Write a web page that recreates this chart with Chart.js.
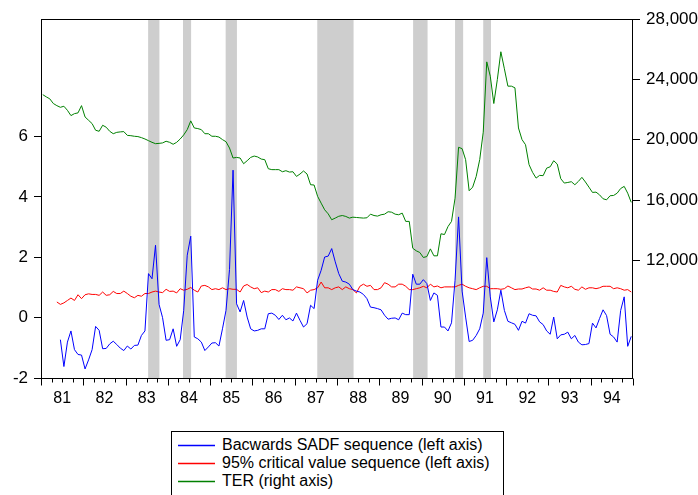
<!DOCTYPE html>
<html>
<head>
<meta charset="utf-8">
<script src="https://cdn.jsdelivr.net/npm/chart.js@4.4.1/dist/chart.umd.min.js"></script>
<style>
  body { margin: 0; background: #fff; overflow: hidden; }
  #wrap { position: relative; width: 698px; height: 495px; }
  #legend {
    position: absolute; left: 171px; top: 431px; width: 331px; height: 80px;
    border: 1px solid #000; background: #fff;
    font-family: "Liberation Sans", Arial, sans-serif; font-size: 16px; color: #000;
  }
  .row { position: absolute; left: 0; width: 100%; height: 18px; line-height: 18px; white-space: nowrap; }
  .swatch { position: absolute; left: 6px; top: 0; }
  .lbl { position: absolute; left: 50px; top: 0; }
</style>
</head>
<body>
<div id="wrap">
  <canvas id="graph" width="698" height="495"></canvas>
  <div id="legend"></div>
</div>
<script>
// year labels, monthly data 1981M01 - 1994M12 //
const years = ['81','82','83','84','85','86','87','88','89','90','91','92','93','94'];

// bubble periods (shaded), in months from 1981M01 //
const shadeStart = [30.4, 40.3, 52.4, 78.4, 105.6, 117.5, 125.5];
const shadeEnd   = [33.6, 42.6, 55.6, 88.7, 109.7, 119.8, 127.7];

// Backwards SADF sequence (left axis) //
const sadf = [null,null,null,null,null,
  -0.73,-1.62,-0.81,-0.44,-1.06,-1.22,-1.24,-1.70,-1.40,-1.06,-0.29,-0.42,-1.03,-1.02,-0.87,
  -0.78,-0.89,-1.01,-1.09,-0.94,-1.04,-0.92,-0.91,-0.59,-0.44,1.46,1.29,2.40,0.44,0.00,
  -0.75,-0.73,-0.37,-0.95,-0.73,0.24,2.07,2.70,-0.64,-0.70,-0.81,-1.09,-0.97,-0.84,-0.83,
  -0.94,-0.37,0.24,1.60,4.89,0.46,0.19,0.57,0.02,-0.37,-0.44,-0.42,-0.37,-0.37,0.13,
  0.15,0.08,-0.06,0.08,-0.07,-0.01,-0.11,0.15,-0.09,-0.31,-0.20,0.41,0.30,1.24,1.57,
  2.01,2.04,2.29,1.85,1.46,1.21,1.18,1.11,0.93,0.88,0.85,0.77,0.63,0.35,0.33,
  0.30,0.26,0.08,-0.05,-0.02,-0.01,-0.07,0.15,0.10,0.10,1.44,1.11,1.11,1.26,1.13,
  0.57,0.82,0.74,-0.31,-0.31,-0.44,-0.17,1.24,3.34,0.88,0.02,-0.79,-0.75,-0.59,-0.37,
  0.15,1.99,0.69,-0.14,0.26,0.91,0.24,-0.12,-0.17,-0.22,-0.42,-0.12,-0.18,0.13,0.08,
  0.06,-0.14,-0.23,-0.44,-0.55,0.02,-0.70,-0.57,-0.55,-0.48,-0.70,-0.59,-0.81,-0.90,-0.89,
  -0.86,-0.18,-0.34,-0.03,0.26,0.07,-0.55,-0.64,-0.81,0.24,0.69,-0.95,-0.62];

// 95% critical value sequence (left axis) //
const critical = [null,null,null,null,
  0.52,0.44,0.49,0.57,0.65,0.57,0.76,0.63,0.76,0.79,0.77,0.77,0.74,0.85,0.74,0.76,
  0.87,0.80,0.80,0.88,0.80,0.71,0.66,0.74,0.71,0.80,0.80,0.85,0.88,0.85,0.83,0.94,
  0.87,0.88,0.82,0.96,0.91,0.94,1.00,0.91,0.85,1.05,1.07,1.02,0.93,0.96,0.93,0.99,
  0.93,0.96,0.94,0.94,0.85,1.05,1.10,1.02,0.96,0.99,0.83,0.88,0.85,0.93,0.93,0.87,
  0.96,0.93,0.93,0.91,1.02,0.99,0.96,0.82,0.91,0.93,0.99,1.18,0.99,0.99,0.93,0.99,
  1.02,0.93,1.02,0.96,0.93,0.82,1.04,1.11,1.04,1.07,0.93,0.93,0.99,1.16,1.11,1.02,
  1.02,1.11,1.11,1.04,0.93,0.93,0.96,0.99,1.04,0.99,1.11,1.02,1.05,0.99,1.02,1.02,
  1.02,1.02,1.07,1.11,1.04,0.99,0.96,0.93,0.99,1.04,1.04,0.96,0.96,0.96,0.94,0.96,
  1.05,0.99,0.93,0.95,0.95,0.99,1.02,0.95,0.95,0.91,0.99,0.91,0.91,0.87,0.85,1.07,
  1.02,0.99,1.04,0.94,0.91,1.02,0.94,0.99,0.99,0.96,0.99,1.04,1.04,1.04,0.96,0.99,
  0.96,0.91,0.93,0.85];

// TER (right axis) //
const ter = [
  22990,22840,22710,22400,22260,22150,22220,21950,21600,21730,21780,22260,
  21510,21290,21070,20630,20560,20960,20830,20560,20400,20490,20520,20540,
  20290,20270,20230,20210,20140,20050,19940,19830,19740,19760,19790,19900,
  19830,19700,19830,20050,20320,20670,21250,20780,20740,20670,20400,20400,
  20230,20230,20180,20010,19870,19450,18790,18830,18790,18410,18610,18830,
  18920,18860,18720,18680,18080,18020,18020,18020,17880,17950,17860,17880,
  17570,17730,17930,17730,17020,17000,16250,15800,15360,15090,14700,14810,
  14930,14980,14920,14810,14870,14850,14830,14810,14830,15070,14980,14940,
  15030,15070,15230,15200,15070,15030,15140,14590,14590,12810,12640,12530,
  12200,12260,12770,12310,12310,13770,13720,14250,14590,16130,19500,19410,
  18680,16620,16860,17570,18680,20500,25160,24210,22400,23990,25830,24700,
  23550,23550,23440,20780,20010,19670,18350,17840,17460,17640,17620,18120,
  18210,18610,18390,17420,17130,17170,17220,17020,17240,17510,17200,16860,
  16510,16530,16350,16090,16020,16290,16310,16460,16770,16910,16460,15850];

const leftTicks = [-2, 0, 2, 4, 6];
const rightTicks = [12000, 16000, 20000, 24000, 28000];

const FONT = '"Liberation Sans", Arial, sans-serif';
Chart.defaults.font.family = FONT;
Chart.defaults.font.size = 16;
Chart.defaults.color = '#000';

function series(values) {
    return values.map((v, i) => ({ x: i + 0.5, y: v }));
}

// grey bubble bands //
const shading = {
    id: 'shading',
    beforeDatasetsDraw(chart) {
        const { ctx, chartArea, scales } = chart;
        ctx.save();
        ctx.fillStyle = '#cecece';
        for (let i = 0; i < shadeStart.length; i++) {
            const x0 = scales.x.getPixelForValue(shadeStart[i]);
            const x1 = scales.x.getPixelForValue(shadeEnd[i]);
            ctx.fillRect(x0, chartArea.top, x1 - x0, chartArea.bottom - chartArea.top);
        }
        ctx.restore();
    }
};

// frame + quarter ticks on the time axis //
const frame = {
    id: 'frame',
    afterDraw(chart) {
        const { ctx, chartArea, scales } = chart;
        ctx.save();
        ctx.strokeStyle = '#000';
        ctx.lineWidth = 1;
        ctx.strokeRect(Math.round(chartArea.left) + 0.5, Math.round(chartArea.top) + 0.5,
            Math.round(chartArea.right - chartArea.left) - 1, Math.round(chartArea.bottom - chartArea.top));
        ctx.beginPath();
        const b = Math.round(chartArea.bottom) + 0.5;
        for (let q = 0; q <= years.length * 12; q += 3) {
            const x = Math.round(scales.x.getPixelForValue(q)) + 0.5;
            ctx.moveTo(x, b);
            ctx.lineTo(x, b + (q % 12 === 0 ? 7 : 4));
        }
        ctx.stroke();
        ctx.restore();
    }
};

const chart = new Chart(document.getElementById('graph'), {
    type: 'line',
    data: {
        datasets: [{
            label: 'Bacwards SADF sequence (left axis)',
            data: series(sadf),
            borderColor: '#0000ff',
            yAxisID: 'y'
        }, {
            label: '95% critical value sequence (left axis)',
            data: series(critical),
            borderColor: '#ff0000',
            yAxisID: 'y'
        }, {
            label: 'TER (right axis)',
            data: series(ter),
            borderColor: '#008000',
            yAxisID: 'y1'
        }]
    },
    options: {
        responsive: false,
        animation: false,
        layout: { padding: { top: 19 } },
        elements: {
            line: { borderWidth: 1, tension: 0 },
            point: { radius: 0 }
        },
        plugins: {
            legend: { display: false },
            tooltip: { enabled: false }
        },
        scales: {
            x: {
                type: 'linear',
                min: 0,
                max: years.length * 12,
                afterBuildTicks: s => { s.ticks = years.map((y, i) => ({ value: 6 + i * 12 })); },
                afterFit: s => { s.height = 117; },
                grid: { display: false },
                border: { display: false },
                ticks: {
                    autoSkip: false,
                    maxRotation: 0,
                    padding: 3,
                    callback: v => years[(v - 6) / 12]
                }
            },
            y: {
                position: 'left',
                min: -2,
                max: 9.9,
                afterBuildTicks: s => { s.ticks = leftTicks.map(v => ({ value: v })); },
                afterFit: s => { s.width = 41; },
                border: { display: false },
                grid: { drawOnChartArea: false, color: '#000', tickLength: 7 },
                ticks: { padding: 6, font: { size: 17 } }
            },
            y1: {
                position: 'right',
                min: 4215,
                max: 28000,
                afterBuildTicks: s => { s.ticks = rightTicks.map(v => ({ value: v })); },
                afterFit: s => { s.width = 65; },
                border: { display: false },
                grid: { drawOnChartArea: false, color: '#000', tickLength: 7 },
                ticks: { padding: 6, font: { size: 17 }, callback: v => v.toLocaleString('en-US') }
            }
        }
    },
    plugins: [shading, frame]
});

// legend box //
const legendColors = ['#0000ff', '#ff0000', '#008000'];
const legend = document.getElementById('legend');
chart.data.datasets.forEach(function (ds, i) {
    const row = document.createElement('div');
    row.className = 'row';
    row.style.top = (4 + i * 18) + 'px';
    row.innerHTML = '<svg class="swatch" width="37" height="18"><line x1="0" y1="9.5" x2="37" y2="9.5" stroke="' +
        legendColors[i] + '" stroke-width="1.6"/></svg>';
    const lbl = document.createElement('span');
    lbl.className = 'lbl';
    lbl.textContent = ds.label;
    row.appendChild(lbl);
    legend.appendChild(row);
});
</script>
</body>
</html>
